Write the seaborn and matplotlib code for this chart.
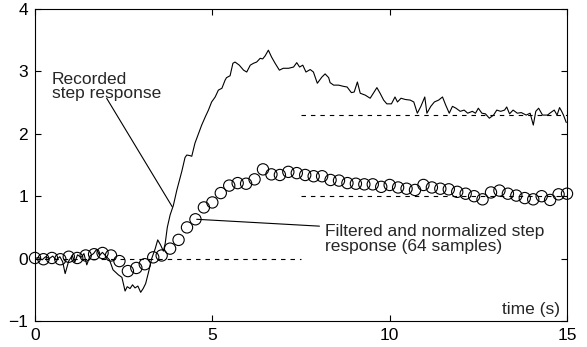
import matplotlib.pyplot as plt
import numpy as np
import pandas as pd
import seaborn as sns

rec_time = [
    0.00, 0.10, 0.20, 0.30, 0.40, 0.50, 0.60, 0.70, 0.78, 0.85, 0.95, 1.05,
    1.12, 1.20, 1.30, 1.38, 1.46, 1.55, 1.65, 1.74, 1.82, 1.90, 2.00, 2.10,
    2.20, 2.35, 2.45, 2.54, 2.60, 2.68, 2.75, 2.82, 2.90, 2.98, 3.05, 3.12,
    3.20, 3.29, 3.39, 3.46, 3.54, 3.62, 3.67, 3.73, 3.81, 3.90, 4.00, 4.14,
    4.23, 4.28, 4.37, 4.42, 4.51, 4.61, 4.70, 4.80, 4.89, 4.98, 5.08, 5.17,
    5.27, 5.36, 5.40, 5.50, 5.58, 5.64, 5.76, 5.88, 5.97, 6.07, 6.16, 6.25,
    6.35, 6.42, 6.49, 6.58, 6.67, 6.77, 6.89, 7.00, 7.15, 7.29, 7.38, 7.46,
    7.55, 7.64, 7.76, 7.85, 7.96, 8.09, 8.18, 8.28, 8.32, 8.42, 8.56, 8.70,
    8.80, 8.92, 9.00, 9.09, 9.17, 9.31, 9.45, 9.54, 9.64, 9.73, 9.83, 9.92,
    10.05, 10.15, 10.22, 10.32, 10.44, 10.58, 10.68, 10.78, 10.88, 10.99,
    11.05, 11.16, 11.26, 11.38, 11.49, 11.58, 11.68, 11.77, 11.87, 11.99,
    12.10, 12.20, 12.33, 12.42, 12.50, 12.60, 12.70, 12.81, 12.93, 13.02,
    13.13, 13.24, 13.30, 13.38, 13.48, 13.60, 13.71, 13.85, 13.96, 14.05,
    14.12, 14.20, 14.31, 14.45, 14.54, 14.64, 14.72, 14.79, 14.85, 14.90,
    14.98,
]
rec_value = [
    0.00, 0.02, -0.02, 0.03, 0.00, 0.04, -0.02, 0.03, -0.05, -0.24, -0.04, 0.05,
    -0.06, 0.06, 0.02, 0.08, -0.10, 0.04, 0.08, 0.15, 0.05, 0.10, 0.04, -0.02,
    -0.18, -0.26, -0.30, -0.52, -0.45, -0.48, -0.42, -0.47, -0.44, -0.54, -0.48, -0.40,
    -0.22, 0.00, 0.16, 0.30, 0.22, 0.12, 0.24, 0.50, 0.70, 0.85, 1.10, 1.40,
    1.62, 1.66, 1.65, 1.64, 1.85, 2.00, 2.14, 2.27, 2.38, 2.51, 2.59, 2.70,
    2.73, 2.86, 2.90, 2.93, 3.13, 3.15, 3.10, 3.02, 2.99, 3.10, 3.13, 3.15,
    3.21, 3.20, 3.25, 3.34, 3.23, 3.13, 3.02, 3.05, 3.05, 3.07, 3.14, 3.07,
    3.10, 2.99, 3.03, 2.99, 2.81, 2.91, 2.96, 2.90, 2.82, 2.78, 2.78, 2.76,
    2.75, 2.66, 2.67, 2.83, 2.65, 2.62, 2.57, 2.65, 2.74, 2.65, 2.54, 2.48,
    2.48, 2.59, 2.51, 2.57, 2.55, 2.54, 2.51, 2.33, 2.44, 2.59,
    2.33, 2.44, 2.51, 2.54, 2.59, 2.46, 2.33, 2.44, 2.41, 2.36,
    2.38, 2.33, 2.36, 2.33, 2.41, 2.33, 2.32, 2.25, 2.30, 2.38,
    2.36, 2.38, 2.43, 2.32, 2.38, 2.33, 2.34, 2.30, 2.33, 2.14,
    2.36, 2.41, 2.30, 2.30, 2.34, 2.38, 2.30, 2.42, 2.36, 2.30,
    2.18,
]

# filtered and normalized step response, 64 samples over 0..15 s
filt_time = np.linspace(0, 15, 64)
filt_value = [
    0.01, -0.01, 0.01, -0.01, 0.03, 0.01, 0.05, 0.07, 0.09, 0.05,
    -0.04, -0.20, -0.15, -0.09, 0.02, 0.05, 0.16, 0.30, 0.50, 0.63,
    0.82, 0.90, 1.05, 1.17, 1.21, 1.20, 1.27, 1.43, 1.35, 1.34,
    1.39, 1.37, 1.34, 1.32, 1.32, 1.26, 1.25, 1.21, 1.20, 1.19,
    1.19, 1.15, 1.18, 1.14, 1.12, 1.10, 1.18, 1.14, 1.12, 1.11,
    1.07, 1.04, 1.00, 0.95, 1.06, 1.09, 1.04, 1.01, 0.97, 0.95,
    1.00, 0.94, 1.03, 1.04,
]

# reference levels (dashed)
ref_levels = [0.0, 2.3, 1.0]
ref_start = [0.0, 7.5, 7.5]
ref_end = [7.5, 15.0, 15.0]

x_ticks = [0, 5, 10, 15]
y_ticks = [-1, 0, 1, 2, 3, 4]

sns.set_style("ticks")
plt.rcParams["font.family"] = ["Liberation Sans", "DejaVu Sans"]
plt.rcParams["font.size"] = 12.5

rec = pd.DataFrame({"t": rec_time, "v": rec_value})
filt = pd.DataFrame({"t": filt_time, "v": filt_value})

fig = plt.figure(figsize=(5.87, 3.47), dpi=100)
ax = fig.add_axes([35 / 587, 26 / 347, 532 / 587, 312 / 347])

for lvl, x0, x1 in zip(ref_levels, ref_start, ref_end):
    ax.plot([x0, x1], [lvl, lvl], color="black", lw=0.8, ls=(0, (4, 4.5)))

sns.lineplot(data=rec, x="t", y="v", ax=ax, color="black", lw=0.8,
             sort=False, estimator=None)
sns.scatterplot(data=filt, x="t", y="v", ax=ax, marker="o", s=66,
                facecolors="none", edgecolors="black", linewidth=0.8,
                zorder=3, clip_on=False)

ax.set_xlim(0, 15)
ax.set_ylim(-1, 4)
ax.set_xticks(x_ticks)
ax.set_yticks(y_ticks)
ax.set_xlabel("")
ax.set_ylabel("")
ax.tick_params(direction="in", length=4, width=0.8, top=True, right=True,
               colors="black", labelsize=12.5)
ax.tick_params(axis="x", pad=5)
ax.tick_params(axis="y", pad=5)
for sp in ax.spines.values():
    sp.set_visible(True)
    sp.set_color("black")
    sp.set_linewidth(0.8)

# annotations
ax.annotate("", xy=(3.87, 0.83), xytext=(2.02, 2.57),
            arrowprops=dict(arrowstyle="-", color="black", lw=0.8,
                            shrinkA=0, shrinkB=0))
ax.text(0.48, 2.80, "Recorded", ha="left", va="baseline")
ax.text(0.48, 2.57, "step response", ha="left", va="baseline")

ax.annotate("", xy=(4.56, 0.63), xytext=(8.02, 0.52),
            arrowprops=dict(arrowstyle="-", color="black", lw=0.8,
                            shrinkA=0, shrinkB=0))
ax.text(8.18, 0.36, "Filtered and normalized step", ha="left", va="baseline")
ax.text(8.18, 0.125, "response (64 samples)", ha="left", va="baseline")

ax.text(14.8, -0.89, "time (s)", ha="right", va="baseline")

fig.savefig("out.png", dpi=100)
